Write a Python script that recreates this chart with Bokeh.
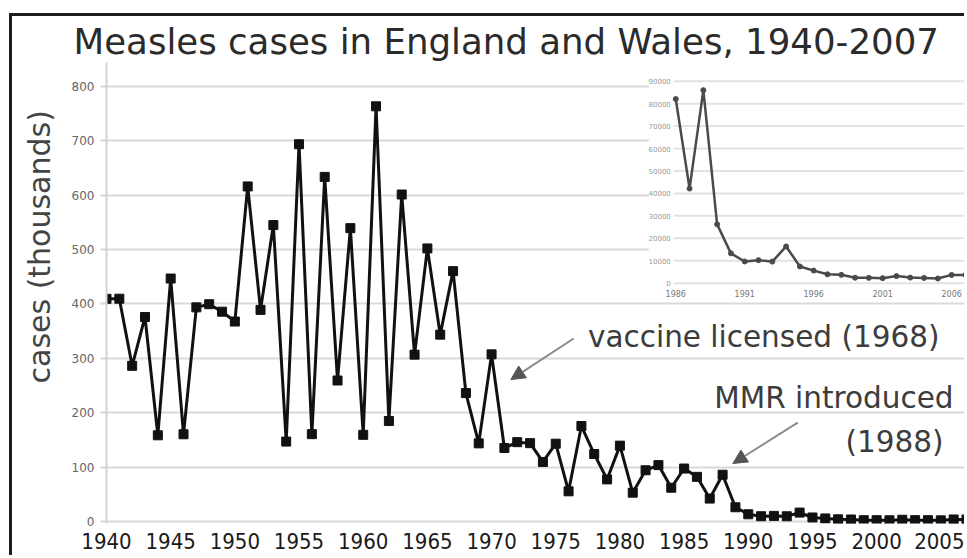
from bokeh.plotting import figure
from bokeh.models import Range1d, FixedTicker, Label, Arrow, NormalHead, Title
from bokeh.core.properties import value
from bokeh.embed import file_html
from bokeh.resources import INLINE

# ---------------- data ----------------
years = list(range(1940, 2008))
cases_thousands = [409.5, 409.7, 286.3, 376.1, 158.5, 446.8, 160.4, 393.8, 399.6, 385.9,
                   367.7, 616.2, 389.2, 545.1, 147.0, 693.8, 160.6, 633.7, 259.3, 539.5,
                   159.4, 763.5, 184.9, 601.3, 306.8, 502.2, 343.6, 460.4, 236.2, 143.7,
                   307.4, 135.2, 145.9, 144.1, 109.5, 143.1, 55.5, 175.6, 124.1, 77.4,
                   139.5, 53.0, 94.2, 103.7, 62.1, 97.4, 82.1, 42.2, 86.0, 26.2,
                   13.3, 9.7, 10.3, 9.6, 16.4, 7.4, 5.6, 4.0, 3.7, 2.4,
                   2.4, 2.3, 3.2, 2.5, 2.4, 2.1, 3.7, 3.7]
x_ticks = list(range(1940, 2006, 5))
y_ticks = list(range(0, 801, 100))

inset_years = list(range(1986, 2008))
inset_cases = [82054, 42165, 86001, 26222, 13302, 9680, 10268, 9612, 16375, 7447,
               5614, 3962, 3728, 2438, 2378, 2250, 3159, 2488, 2356, 2089, 3705, 3670]
inset_x_ticks = [1986, 1991, 1996, 2001, 2006]
inset_y_ticks = list(range(0, 90001, 10000))

title_text = "Measles cases in England and Wales, 1940-2007"
y_label_text = "cases (thousands)"
note_vaccine = "vaccine licensed (1968)"
note_mmr_1 = "MMR introduced"
note_mmr_2 = "(1988)"

FONT = "DejaVu Sans"

# ---------------- figure ----------------
p = figure(width=955, height=542, output_backend="svg", toolbar_location=None,
           x_range=Range1d(1940, 2007.08), y_range=Range1d(-3.68, 844.1),
           min_border_left=93, min_border_right=0, min_border_top=46, min_border_bottom=35)
p.margin = (13, 0, 0, 9)
p.styles = {"border-top": "3px solid #1c1c1c", "border-left": "3px solid #1c1c1c"}
p.outline_line_color = None
p.background_fill_color = "white"
p.border_fill_color = "white"

p.title.text = title_text
p.title.text_font = FONT
p.title.text_font_size = "35.6px"
p.title.text_font_style = "normal"
p.title.text_color = "#2b2b2b"
p.title.align = "left"
p.title.offset = -33
p.title.vertical_align = "bottom"
p.title.standoff = 2

p.add_layout(Title(text=y_label_text, align="left", offset=140, vertical_align="top",
                   standoff=19, text_font=FONT, text_font_size="30px",
                   text_font_style="normal", text_color="#444444"), "left")

xa = p.xaxis[0]
xa.ticker = FixedTicker(ticks=x_ticks)
xa.axis_line_color = None
xa.major_tick_line_color = None
xa.minor_tick_line_color = None
xa.major_tick_out = 0
xa.major_tick_in = 0
xa.major_label_standoff = 9
xa.major_label_text_font = "DejaVu Sans Condensed"
xa.major_label_text_font_size = "22px"
xa.major_label_text_color = "#1a1a1a"

ya = p.yaxis[0]
ya.ticker = FixedTicker(ticks=y_ticks)
ya.axis_line_color = "#d4d4d4"
ya.axis_line_width = 2
ya.major_tick_out = 6
ya.major_tick_in = 0
ya.major_tick_line_color = "#d4d4d4"
ya.major_tick_line_width = 2
ya.minor_tick_line_color = None
ya.major_label_standoff = 6
ya.major_label_text_font = FONT
ya.major_label_text_font_size = "12px"
ya.major_label_text_color = "#666666"

p.xgrid.visible = False
p.ygrid.ticker = ya.ticker
p.ygrid.grid_line_color = "#dadada"
p.ygrid.grid_line_width = 2

# ---------------- inset ranges ----------------
p.extra_x_ranges = {"ix": Range1d(1944.73, 2007.15)}
p.extra_y_ranges = {"iy": Range1d(-107067, 98332)}

# inset background
p.quad(left=[1984.04], right=[2010], bottom=[-7700], top=[100000],
       x_range_name="ix", y_range_name="iy", fill_color="white", line_color=None)
# inset gridlines
p.segment(x0=[1985.86] * len(inset_y_ticks), x1=[2010] * len(inset_y_ticks),
          y0=inset_y_ticks, y1=inset_y_ticks, x_range_name="ix", y_range_name="iy",
          line_color="#e2e2e2", line_width=2)
# inset tick labels
p.text(x=[1985.64] * len(inset_y_ticks), y=inset_y_ticks, text=[str(v) for v in inset_y_ticks],
       x_range_name="ix", y_range_name="iy", text_align="right", text_baseline="middle",
       text_font=value(FONT), text_font_size="7px", text_color="#9a9a9a")
p.text(x=inset_x_ticks, y=[-4600] * len(inset_x_ticks), text=[str(v) for v in inset_x_ticks],
       x_range_name="ix", y_range_name="iy", text_align="center", text_baseline="middle",
       text_font=value(FONT), text_font_size="8px", text_color="#777777")
# inset series
p.line(inset_years, inset_cases, x_range_name="ix", y_range_name="iy",
       line_color="#4a4a4a", line_width=2.5)
p.scatter(inset_years, inset_cases, x_range_name="ix", y_range_name="iy",
          marker="circle", size=5, color="#4a4a4a")

# ---------------- main series ----------------
p.line(years, cases_thousands, line_color="#111111", line_width=3)
p.scatter(years, cases_thousands, marker="square", size=9, color="#111111")

# ---------------- annotations ----------------
p.add_layout(Arrow(end=NormalHead(size=14, fill_color="#555555", line_color="#555555"),
                   x_start=1976.4, y_start=336.6, x_end=1971.5, y_end=261,
                   line_color="#8a8a8a", line_width=2))
p.add_layout(Arrow(end=NormalHead(size=14, fill_color="#555555", line_color="#555555"),
                   x_start=1993.85, y_start=182, x_end=1988.8, y_end=106.7,
                   line_color="#8a8a8a", line_width=2))

p.add_layout(Label(x=1977.51, y=338.4, text=note_vaccine, text_font=FONT,
                   text_font_size="29.5px", text_color="#3c3c3c",
                   text_align="left", text_baseline="middle"))
p.add_layout(Label(x=2005.99, y=226.2, text=note_mmr_1, text_font=FONT,
                   text_font_size="29.5px", text_color="#3c3c3c",
                   text_align="right", text_baseline="middle"))
p.add_layout(Label(x=2005.21, y=145.3, text=note_mmr_2, text_font=FONT,
                   text_font_size="29.5px", text_color="#3c3c3c",
                   text_align="right", text_baseline="middle"))

open("out.html", "w").write(file_html(p, INLINE))
